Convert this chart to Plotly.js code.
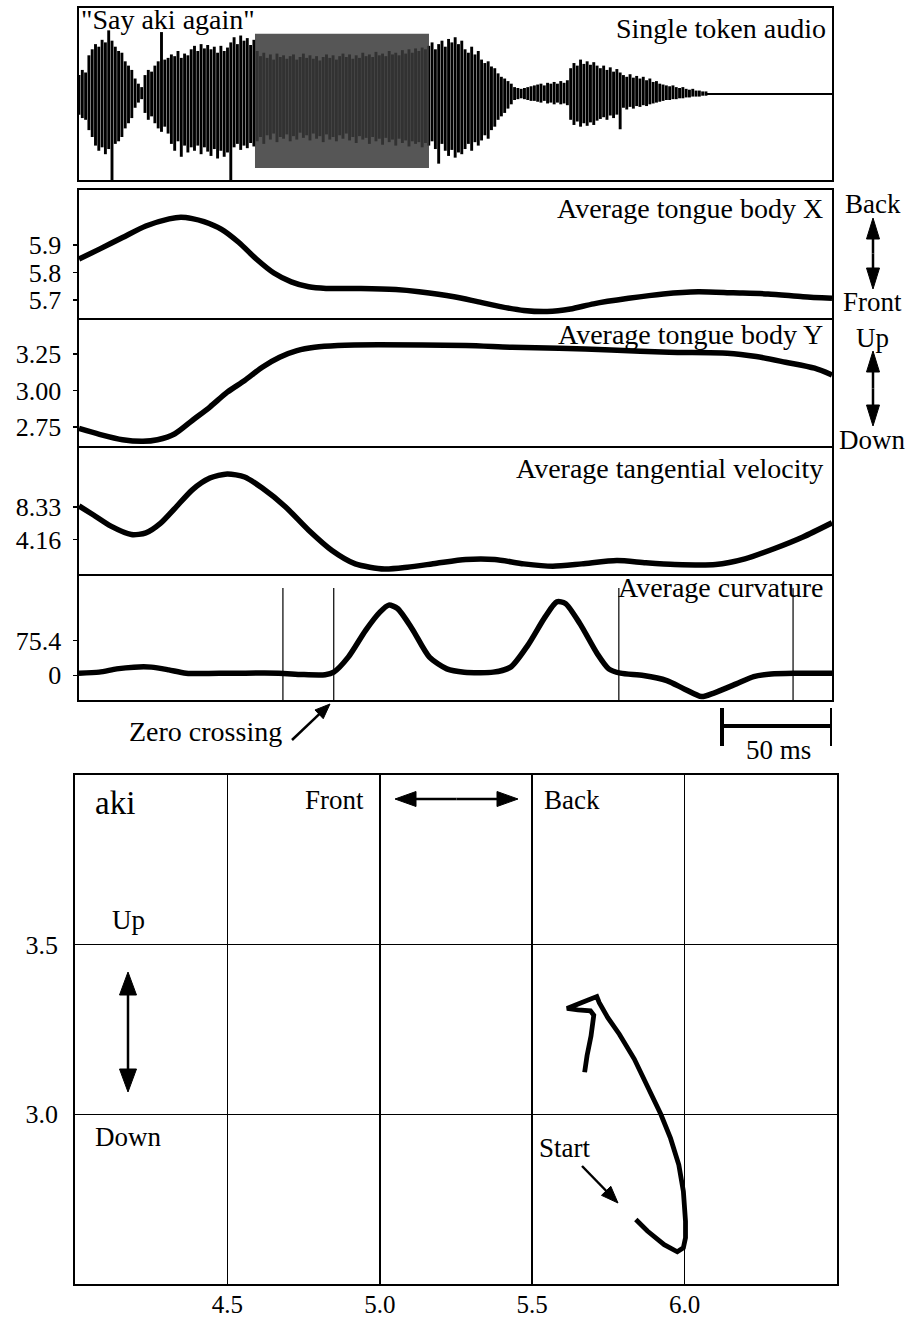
<!DOCTYPE html>
<html>
<head>
<meta charset="utf-8">
<script src="https://cdn.plot.ly/plotly-3.0.1.min.js"></script>
<style>html,body{margin:0;padding:0;background:#fff}</style>
</head>
<body>
<div id="chart" style="width:910px;height:1321px"></div>
<script>
// ---------- Audio: per-sample peak envelope (normalised amplitude) ----------
const audioStepMs = 1.5;
const audioHi = [
  0.22,0.28,0.25,0.45,0.52,0.58,0.55,0.63,0.60,0.74,
  0.62,0.55,0.50,0.48,0.38,0.33,0.28,0.18,0.12,0.08,
  0.22,0.28,0.26,0.33,0.38,0.72,0.40,0.42,0.46,0.44,
  0.50,0.42,0.47,0.45,0.52,0.56,0.50,0.58,0.53,0.57,
  0.52,0.55,0.48,0.56,0.50,0.54,0.60,0.66,0.58,0.68,
  0.62,0.65,0.57,0.63,
  0.50,0.44,0.48,0.42,0.46,0.40,0.47,0.43,0.45,0.41,
  0.44,0.46,0.40,0.43,0.47,0.42,0.45,0.41,0.44,0.39,
  0.43,0.46,0.42,0.45,0.40,0.44,0.47,0.43,0.46,0.41,
  0.45,0.42,0.48,0.44,0.46,0.43,0.49,0.45,0.47,0.44,
  0.50,0.46,0.48,0.45,0.51,0.47,0.52,0.48,0.53,0.50,
  0.54,0.52,
  0.56,0.60,0.52,0.58,0.62,0.55,
  0.64,0.60,0.66,0.58,0.62,
  0.52,0.48,0.55,0.46,0.50,
  0.40,0.36,0.38,0.32,0.30,
  0.24,0.20,0.18,0.15,0.12,
  0.08,0.07,0.06,0.07,0.08,0.09,0.10,
  0.11,0.12,0.10,0.13,0.12,0.14,0.12,0.15,0.13,0.16,
  0.30,0.36,0.33,0.40,0.35,0.38,0.34,0.37,0.33,
  0.30,0.33,0.28,0.31,0.26,0.29,0.25,
  0.22,0.20,0.23,0.19,0.21,0.18,0.20,0.16,0.18,0.14,0.15,0.12,
  0.11,0.10,0.09,0.10,0.08,0.07,0.08,0.06,0.05,0.06,0.04,0.04,0.03,0.03
];
const audioLo = [
  -0.24,-0.28,-0.30,-0.42,-0.50,-0.60,-0.66,-0.62,-0.70,-0.64,
  -1.00,-0.58,-0.55,-0.50,-0.40,-0.34,-0.28,-0.16,-0.10,-0.06,
  -0.22,-0.30,-0.26,-0.34,-0.40,-0.44,-0.38,-0.46,-0.58,-0.66,
  -0.55,-0.73,-0.60,-0.68,-0.62,-0.66,-0.60,-0.70,-0.62,-0.67,
  -0.72,-0.64,-0.75,-0.66,-0.73,-0.68,-1.00,-0.62,-0.58,-0.65,
  -0.60,-0.63,-0.57,-0.61,
  -0.55,-0.50,-0.58,-0.48,-0.53,-0.46,-0.56,-0.50,-0.52,-0.47,
  -0.55,-0.49,-0.53,-0.45,-0.51,-0.48,-0.54,-0.46,-0.52,-0.49,
  -0.56,-0.47,-0.53,-0.50,-0.55,-0.48,-0.52,-0.46,-0.54,-0.50,
  -0.57,-0.49,-0.53,-0.51,-0.58,-0.50,-0.55,-0.52,-0.59,-0.51,
  -0.56,-0.53,-0.60,-0.52,-0.57,-0.54,-0.61,-0.55,-0.58,-0.56,
  -0.62,-0.57,
  -0.60,-0.55,-0.64,-0.81,-0.58,-0.66,
  -0.72,-0.65,-0.74,-0.68,-0.70,
  -0.64,-0.58,-0.66,-0.56,-0.60,
  -0.54,-0.48,-0.52,-0.42,-0.38,
  -0.30,-0.26,-0.22,-0.17,-0.12,
  -0.07,-0.06,-0.05,-0.06,-0.07,-0.08,-0.08,
  -0.09,-0.10,-0.08,-0.11,-0.10,-0.12,-0.10,-0.12,-0.11,-0.13,
  -0.30,-0.36,-0.32,-0.38,-0.34,-0.37,-0.33,-0.36,-0.31,
  -0.29,-0.27,-0.30,-0.25,-0.28,-0.24,-0.41,
  -0.16,-0.18,-0.15,-0.17,-0.14,-0.15,-0.13,-0.14,-0.12,-0.11,-0.10,-0.09,
  -0.08,-0.07,-0.07,-0.06,-0.06,-0.05,-0.05,-0.04,-0.04,-0.03,-0.03,-0.03,-0.02,-0.02
];
const audioTailMs = [285.0, 342.3];
const audioTailAmp = [0.0, 0.0];
const highlightMs = [80.0, 159.1];      // shaded stretch of the token
const highlightAmp = [-0.86, 0.70];

// ---------- Articulatory traces (time in ms) ----------
const tongueXTime = [0, 9.3, 19.8, 30.4, 41.0, 46.3, 51.5, 56.8, 64.8, 72.7, 80.6, 88.6, 96.5, 104.4, 112.3, 128.2, 144.0, 154.6, 170.5, 181.1, 191.6, 202.2, 212.8, 223.4, 233.9, 249.8, 265.6, 281.5, 297.4, 313.2, 329.1, 342.3];
const tongueX = [5.849, 5.885, 5.927, 5.969, 5.995, 6.001, 5.996, 5.985, 5.957, 5.909, 5.849, 5.798, 5.766, 5.748, 5.742, 5.742, 5.738, 5.730, 5.712, 5.694, 5.676, 5.662, 5.658, 5.667, 5.686, 5.706, 5.722, 5.730, 5.726, 5.722, 5.712, 5.706];

const tongueYTime = [0, 9.3, 19.8, 29.1, 35.7, 43.6, 51.5, 59.5, 67.4, 75.3, 83.3, 91.2, 99.1, 107.1, 117.6, 136.1, 175.8, 196.9, 218.1, 241.9, 268.3, 294.7, 307.9, 321.2, 334.4, 342.3];
const tongueY = [2.740, 2.700, 2.663, 2.652, 2.663, 2.704, 2.795, 2.887, 2.989, 3.069, 3.160, 3.228, 3.273, 3.296, 3.308, 3.313, 3.308, 3.296, 3.290, 3.278, 3.262, 3.256, 3.233, 3.194, 3.153, 3.107];

const velTime = [0, 6.6, 14.5, 23.8, 30.4, 37.0, 43.6, 51.5, 59.5, 67.4, 75.3, 83.3, 93.8, 104.4, 115.0, 125.6, 138.8, 149.3, 162.6, 175.8, 189.0, 202.2, 215.4, 228.6, 244.5, 257.7, 270.9, 289.4, 302.7, 315.9, 329.1, 342.3];
const velocity = [8.47, 7.30, 5.87, 4.79, 5.00, 6.22, 8.16, 10.54, 12.05, 12.58, 12.18, 10.76, 8.37, 5.35, 2.75, 1.03, 0.37, 0.60, 1.11, 1.59, 1.59, 1.03, 0.73, 1.03, 1.46, 1.16, 0.94, 0.94, 1.67, 2.97, 4.48, 6.30];

const curvTime = [0, 9.2, 17.1, 25.0, 32.9, 40.8, 48.7, 69.8, 90.8, 101.4, 111.9, 115.8, 122.4, 130.3, 136.9, 140.8, 144.8, 151.4, 159.3, 167.2, 175.1, 188.3, 196.2, 204.0, 211.9, 217.2, 221.1, 227.7, 235.6, 240.8, 246.1, 256.6, 267.2, 275.1, 283.0, 288.3, 298.8, 306.7, 314.6, 325.1, 342.3];
const curvature = [4.6, 6.9, 14.0, 17.8, 17.8, 11.9, 4.6, 4.6, 4.6, 1.7, 1.4, 6.9, 39.6, 98.0, 138.1, 152.9, 145.5, 101.6, 39.6, 14.0, 6.9, 6.9, 17.8, 65.3, 127.4, 160.0, 156.5, 112.6, 47.0, 14.0, 4.6, -0.5, -11.5, -29.6, -46.4, -39.2, -18.7, -2.7, 3.0, 4.6, 4.6];

const eventTimes = [92.7, 115.8, 245.4, 324.6];
const scaleBarMs = 50;

// ---------- Tongue-body trajectory (X = front/back, Y = up/down) ----------
const trajX = [5.840, 5.878, 5.933, 5.976, 5.996, 6.003, 6.003, 5.996, 5.981, 5.954, 5.922, 5.878, 5.835, 5.786, 5.748, 5.720, 5.712, 5.661, 5.614, 5.650, 5.691, 5.702, 5.693, 5.680, 5.672];
const trajY = [2.690, 2.656, 2.616, 2.595, 2.607, 2.636, 2.685, 2.773, 2.851, 2.929, 3.000, 3.085, 3.163, 3.236, 3.285, 3.329, 3.347, 3.329, 3.312, 3.308, 3.305, 3.292, 3.231, 3.173, 3.124];

// Tick labels
const xTicks = [5.7, 5.8, 5.9];          const xTickText = ['5.7', '5.8', '5.9'];
const yTicks = [2.75, 3.00, 3.25];       const yTickText = ['2.75', '3.00', '3.25'];
const vTicks = [4.16, 8.33];             const vTickText = ['4.16', '8.33'];
const cTicks = [0, 75.4];                const cTickText = ['0', '75.4'];
const trajXTicks = [4.5, 5.0, 5.5, 6.0]; const trajXTickText = ['4.5', '5.0', '5.5', '6.0'];
const trajYTicks = [3.0, 3.5];           const trajYTickText = ['3.0', '3.5'];

// ---------- helpers: pixel -> paper ----------
const W = 910, H = 1321;
const px = v => v / W;
const py = v => 1 - v / H;
const serif = 'Liberation Serif, Times New Roman, serif';
const tRange = [0, 342.3];
const INK = '#000';

// audio strokes: one vertical segment per sample
const audioX = [], audioY = [];
const nAudio = Math.min(audioHi.length, audioLo.length);
for (let i = 0; i < nAudio; i++) {
  const t = i * audioStepMs;
  audioX.push(t, t, null);
  audioY.push(audioLo[i], audioHi[i], null);
}

const curveLine = {color: INK, width: 5.5, shape: 'spline', smoothing: 0.7};
const traces = [
  {x: audioX, y: audioY, xaxis: 'x', yaxis: 'y', mode: 'lines', line: {color: INK, width: 2.9}, hoverinfo: 'skip'},
  {x: audioTailMs, y: audioTailAmp, xaxis: 'x', yaxis: 'y', mode: 'lines', line: {color: INK, width: 2}, hoverinfo: 'skip'},
  {x: tongueXTime, y: tongueX, xaxis: 'x2', yaxis: 'y2', mode: 'lines', line: curveLine},
  {x: tongueYTime, y: tongueY, xaxis: 'x3', yaxis: 'y3', mode: 'lines', line: curveLine},
  {x: velTime, y: velocity, xaxis: 'x4', yaxis: 'y4', mode: 'lines', line: curveLine},
  {x: curvTime, y: curvature, xaxis: 'x5', yaxis: 'y5', mode: 'lines', line: curveLine},
  {x: trajX, y: trajY, xaxis: 'x6', yaxis: 'y6', mode: 'lines', line: {color: INK, width: 4.8, shape: 'linear'}}
];

// stacked panels share borders: only the first of a stack draws its top edge
function timeAxis(anchor, matchFirst, drawTop) {
  const a = {domain: [px(79), px(832)], range: tRange, anchor: anchor, showline: true, mirror: drawTop,
    linecolor: INK, linewidth: 1.6, showgrid: false, zeroline: false, showticklabels: false, ticks: '', fixedrange: true};
  if (matchFirst) a.matches = 'x';
  return a;
}
function valueAxis(anchor, top, bottom, range, vals, texts) {
  return {domain: [py(bottom), py(top)], range: range, anchor: anchor, tickvals: vals, ticktext: texts,
    ticks: vals.length ? 'outside' : '', ticklen: 4, tickwidth: 1.5, tickcolor: INK, ticklabelstandoff: 7,
    tickfont: {family: serif, size: 26, color: INK}, showline: true, mirror: true, linecolor: INK, linewidth: 1.6,
    showgrid: false, zeroline: false, fixedrange: true};
}

function note(text, x, y, xanchor, size) {
  return {text: text, xref: 'paper', yref: 'paper', x: px(x), y: py(y), xanchor: xanchor || 'center', yanchor: 'middle',
    showarrow: false, font: {family: serif, size: size || 28, color: INK}};
}

function arrow(x1, y1, x2, y2, len, wid, lw) {
  const dx = x2 - x1, dy = y2 - y1, d = Math.hypot(dx, dy);
  const ux = dx / d, uy = dy / d;
  const bx = x2 - ux * len, by = y2 - uy * len;
  const nx = -uy * wid / 2, ny = ux * wid / 2;
  return [
    {type: 'line', xref: 'paper', yref: 'paper', x0: px(x1), y0: py(y1), x1: px(bx + ux * 2), y1: py(by + uy * 2), line: {color: INK, width: lw}},
    {type: 'path', xref: 'paper', yref: 'paper',
      path: 'M' + px(x2) + ',' + py(y2) + ' L' + px(bx + nx) + ',' + py(by + ny) + ' L' + px(bx - nx) + ',' + py(by - ny) + ' Z',
      fillcolor: INK, line: {color: INK, width: 1}}
  ];
}
function doubleArrow(x1, y1, x2, y2, len, wid, lw) {
  const mx = (x1 + x2) / 2, my = (y1 + y2) / 2;
  return arrow(mx, my, x1, y1, len, wid, lw).concat(arrow(mx, my, x2, y2, len, wid, lw));
}

const shapes = [
  // shaded stretch of the audio token
  {type: 'rect', xref: 'x', yref: 'y', x0: highlightMs[0], x1: highlightMs[1], y0: highlightAmp[0], y1: highlightAmp[1],
    fillcolor: 'rgba(58,58,58,0.86)', line: {width: 0}, layer: 'above'}
];
// event markers in the curvature panel
eventTimes.forEach(t => shapes.push({type: 'line', xref: 'x5', yref: 'y5 domain', x0: t, x1: t, y0: 0, y1: 0.889,
  line: {color: INK, width: 1.2}}));
// 50 ms scale bar
const sbEnd = tRange[1], sbStart = tRange[1] - scaleBarMs;
shapes.push({type: 'line', xref: 'x5', yref: 'paper', x0: sbStart, x1: sbEnd, y0: py(726), y1: py(726), line: {color: INK, width: 4}});
shapes.push({type: 'line', xref: 'x5', yref: 'paper', x0: sbStart, x1: sbStart, y0: py(708), y1: py(746), line: {color: INK, width: 4}});
shapes.push({type: 'line', xref: 'x5', yref: 'paper', x0: sbEnd, x1: sbEnd, y0: py(708), y1: py(746), line: {color: INK, width: 4}});
// direction arrows
shapes.push(...doubleArrow(873, 218, 873, 289, 21, 13, 2.5));
shapes.push(...doubleArrow(873, 351, 873, 426, 21, 13, 2.5));
shapes.push(...doubleArrow(395, 799, 518, 799, 21, 15, 2.5));
shapes.push(...doubleArrow(128, 972, 128, 1092, 23, 17, 2.5));
shapes.push(...arrow(292, 740, 330, 704, 15, 12, 2.5));
shapes.push(...arrow(582, 1166, 618, 1203, 17, 13, 2.5));

const annotations = [
  note('"Say aki again"', 79, 20, 'left'),
  note('Single token audio', 828, 29, 'right'),
  note('Average tongue body X', 825, 208, 'right'),
  note('Average tongue body Y', 825, 335, 'right'),
  note('Average tangential velocity', 825, 469, 'right'),
  note('Average curvature', 825, 587, 'right'),
  note('Back', 873, 204, 'center', 27),
  note('Front', 872, 302, 'center', 27),
  note('Up', 872, 338, 'center', 27),
  note('Down', 872, 440, 'center', 27),
  note('Zero crossing', 205, 731, 'center'),
  note('50 ms', 778, 750, 'center', 27),
  note('aki', 93, 803, 'left', 33),
  note('Front', 366, 800, 'right', 27),
  note('Back', 542, 800, 'left', 27),
  note('Up', 128, 920, 'center', 27),
  note('Down', 128, 1137, 'center', 27),
  note('Start', 537, 1148, 'left', 27)
];

const layout = {
  width: W, height: H, autosize: false,
  margin: {l: 0, r: 0, t: 0, b: 0},
  paper_bgcolor: '#fff', plot_bgcolor: '#fff',
  showlegend: false,
  font: {family: serif, color: INK},
  xaxis: timeAxis('y', false, true),
  yaxis: valueAxis('x', 8, 180, [-1, 1], [], []),
  xaxis2: timeAxis('y2', true, true),
  yaxis2: valueAxis('x2', 190, 318, [5.6345, 6.1], xTicks, xTickText),
  xaxis3: timeAxis('y3', true, false),
  yaxis3: valueAxis('x3', 318, 446, [2.62, 3.497], yTicks, yTickText),
  xaxis4: timeAxis('y4', true, false),
  yaxis4: valueAxis('x4', 446, 574, [-0.27, 16.16], vTicks, vTickText),
  xaxis5: timeAxis('y5', true, false),
  yaxis5: valueAxis('x5', 574, 700, [-53.8, 220.7], cTicks, cTickText),
  xaxis6: {domain: [px(75), px(837)], range: [4.0, 6.5], anchor: 'y6', tickvals: trajXTicks, ticktext: trajXTickText,
    ticks: '', ticklabelstandoff: -3, tickfont: {family: serif, size: 25, color: INK},
    showgrid: true, gridcolor: INK, gridwidth: 1.5, showline: true, mirror: true, linecolor: INK, linewidth: 1.8,
    zeroline: false, fixedrange: true},
  yaxis6: {domain: [py(1284), py(775)], range: [2.5, 4.0], anchor: 'x6', tickvals: trajYTicks, ticktext: trajYTickText,
    ticks: '', ticklabelstandoff: 10, tickfont: {family: serif, size: 26, color: INK},
    showgrid: true, gridcolor: INK, gridwidth: 1.5, showline: true, mirror: true, linecolor: INK, linewidth: 1.8,
    zeroline: false, fixedrange: true},
  shapes: shapes,
  annotations: annotations
};

Plotly.newPlot('chart', traces, layout, {displayModeBar: false, staticPlot: true});
</script>
</body>
</html>
